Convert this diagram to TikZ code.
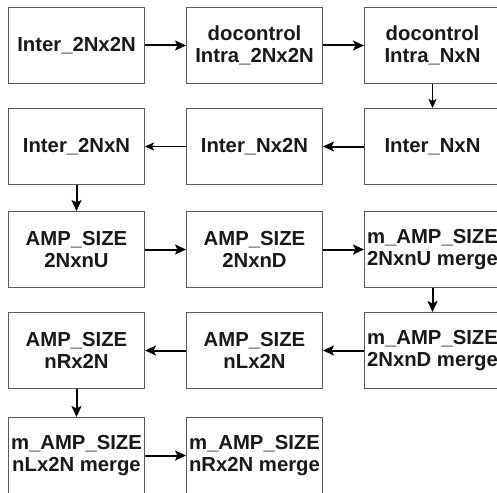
\documentclass[tikz,border=0pt]{standalone}
\usepackage{fontspec}
\setmainfont{Liberation Sans}
\usetikzlibrary{arrows.meta}
\begin{document}
\begin{tikzpicture}[x=1pt,y=1pt,
  box/.style={draw=black!65, line width=1pt, fill=white, minimum width=136pt, minimum height=76pt,
    inner sep=0pt, anchor=north west, align=center, text=black!90,
    font=\fontsize{20.3}{22.5}\selectfont\bfseries},
  thk/.style={line width=2pt, -{Stealth[length=11pt,width=10pt,inset=2.5pt]}},
  thn/.style={line width=1pt, -{Stealth[length=9pt,width=8pt,inset=2pt]}}]
\useasboundingbox (0,0) rectangle (497,-492);
\node[box] (a1) at (8,-7) {Inter\_2Nx2N};
\node[box] (a2) at (186,-7) {docontrol\\Intra\_2Nx2N};
\node[box] (a3) at (364,-7) {docontrol\\Intra\_NxN};
\node[box] (b1) at (8,-108) {Inter\_2NxN};
\node[box] (b2) at (186,-108) {Inter\_Nx2N};
\node[box] (b3) at (364,-108) {Inter\_NxN};
\node[box] (c1) at (8,-211) {AMP\_SIZE\\2NxnU};
\node[box] (c2) at (186,-211) {AMP\_SIZE\\2NxnD};
\node[box] (c3) at (364,-211) {m\_AMP\_SIZE\\2NxnU merge};
\node[box] (d1) at (8,-312) {AMP\_SIZE\\nRx2N};
\node[box] (d2) at (186,-312) {AMP\_SIZE\\nLx2N};
\node[box] (d3) at (364,-312) {m\_AMP\_SIZE\\2NxnD merge};
\node[box] (e1) at (8,-417) {m\_AMP\_SIZE\\nLx2N merge};
\node[box] (e2) at (186,-417) {m\_AMP\_SIZE\\nRx2N merge};
\draw[thk] (a1) -- (a2);
\draw[thk] (a2) -- (a3);
\draw[thn] (a3) -- (b3);
\draw[thk] (b3) -- (b2);
\draw[thn] (b2) -- (b1);
\draw[thk] (b1) -- (c1);
\draw[thk] (c1) -- (c2);
\draw[thk] (c2) -- (c3);
\draw[thk] (c3) -- (d3);
\draw[thk] (d3) -- (d2);
\draw[thk] (d2) -- (d1);
\draw[thk] (d1) -- (e1);
\draw[thk] (e1) -- (e2);
\end{tikzpicture}
\end{document}
